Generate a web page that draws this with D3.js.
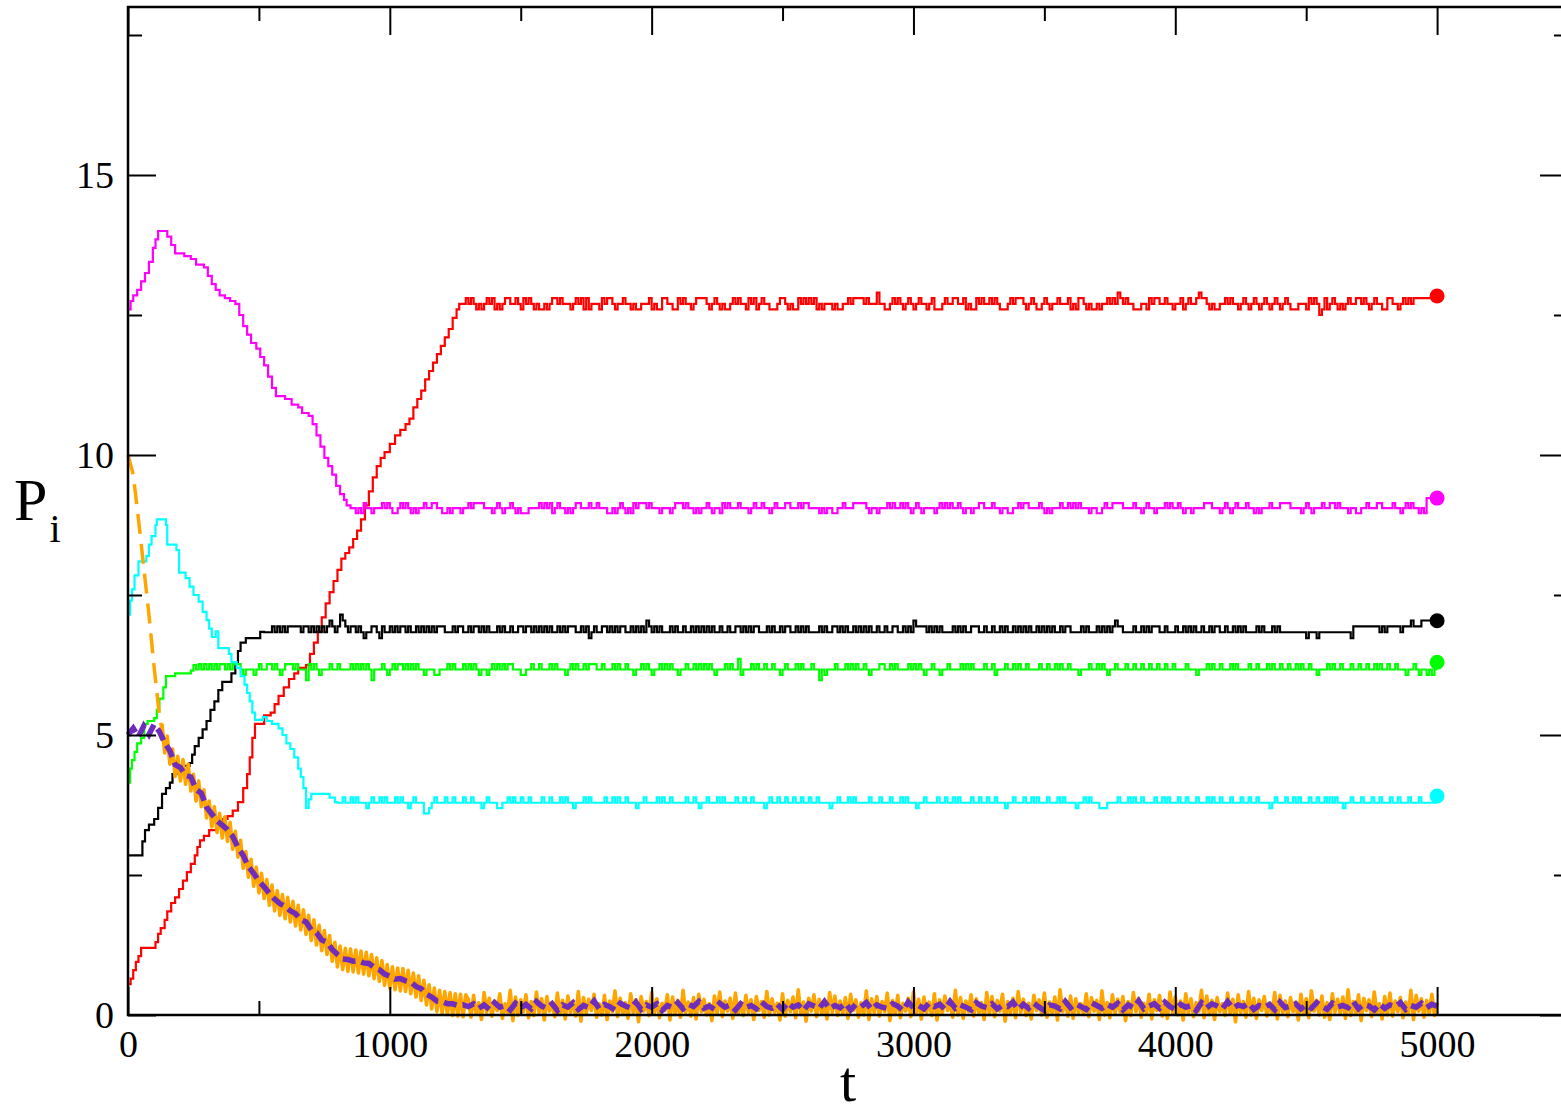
<!DOCTYPE html>
<html>
<head>
<meta charset="utf-8">
<script src="https://cdn.jsdelivr.net/npm/d3@7"></script>
<style>
  body { margin: 0; background: #fff; }
  text { font-family: "Liberation Serif", "Times New Roman", serif; fill: #000; }
</style>
</head>
<body>
<svg id="chart" width="1561" height="1115"></svg>
<script>
// ---------------- data ----------------
const T_END = 5000;
const BIN = 10;                       // time width of one level character

const xMajorTicks = [0, 1000, 2000, 3000, 4000, 5000];
const xTickLabels = ["0", "1000", "2000", "3000", "4000", "5000"];
const xMinorTicks = [500, 1500, 2500, 3500, 4500];
const yMajorTicks = [0, 5, 10, 15];
const yTickLabels = ["0", "5", "10", "15"];
const yMinorTicks = [2.5, 7.5, 12.5, 17.5];

// transient part of each trajectory: [t, P]
const redRamp = [[0,0.55],[10,0.65],[20,0.8],[30,0.95],[40,1.05],[50,1.2],[105,1.3],[115,1.45],[125,1.55],[140,1.7],[150,1.85],[165,2.0],[180,2.1],[195,2.25],[210,2.4],[225,2.55],[240,2.7],[255,2.85],[265,3.0],[275,3.12],[290,3.2],[310,3.3],[340,3.35],[360,3.5],[380,3.55],[400,3.65],[420,3.8],[440,4.05],[455,4.3],[465,4.6],[475,4.95],[485,5.2],[520,5.35],[545,5.4],[560,5.55],[575,5.7],[595,5.85],[615,6.0],[635,6.1],[650,6.2],[680,6.25],[695,6.45],[710,6.65],[725,6.85],[740,7.1],[755,7.35],[770,7.55],[785,7.75],[800,7.95],[815,8.15],[830,8.25],[845,8.35],[860,8.5],[875,8.65],[890,8.85],[905,9.1],[920,9.35],[935,9.6],[950,9.8],[965,9.95],[980,10.05],[1000,10.2],[1020,10.35],[1040,10.45],[1060,10.55],[1075,10.65],[1090,10.85],[1105,11.0],[1120,11.15],[1135,11.35],[1150,11.5],[1165,11.65],[1180,11.8],[1195,11.95],[1210,12.1],[1225,12.25],[1240,12.45],[1255,12.6],[1265,12.7]];
const magentaRamp = [[0,12.6],[10,12.75],[20,12.85],[35,12.95],[50,13.1],[65,13.25],[80,13.45],[95,13.7],[105,13.85],[115,14.0],[150,13.9],[165,13.75],[180,13.6],[215,13.55],[240,13.5],[260,13.4],[290,13.35],[305,13.2],[320,13.05],[335,12.95],[350,12.85],[370,12.8],[390,12.75],[410,12.7],[425,12.5],[440,12.3],[455,12.15],[470,12.0],[490,11.9],[505,11.75],[520,11.6],[535,11.4],[550,11.2],[565,11.05],[600,11.0],[625,10.9],[650,10.85],[665,10.75],[690,10.7],[705,10.55],[720,10.35],[735,10.15],[750,9.95],[765,9.8],[780,9.65],[795,9.45],[810,9.3],[825,9.2],[835,9.1]];
const blackRamp = [[0,2.85],[55,3.1],[65,3.3],[80,3.4],[100,3.5],[115,3.7],[130,3.95],[145,4.05],[160,4.15],[170,4.3],[185,4.45],[235,4.5],[245,4.65],[255,4.8],[270,4.95],[285,5.1],[300,5.25],[315,5.45],[330,5.6],[345,5.8],[360,5.95],[395,6.1],[410,6.3],[420,6.5],[430,6.65],[450,6.73],[505,6.84]];
const greenRamp = [[0,4.15],[8,4.4],[15,4.55],[25,4.7],[35,4.85],[50,4.95],[62,5.2],[75,5.25],[100,5.3],[110,5.45],[120,5.65],[135,5.85],[145,6.05],[180,6.1],[240,6.15],[250,6.25]];
const cyanRamp = [[0,7.15],[8,7.4],[15,7.6],[25,7.85],[40,8.1],[70,8.2],[80,8.4],[90,8.55],[105,8.75],[110,8.85],[145,8.75],[150,8.4],[185,8.3],[195,7.9],[220,7.8],[235,7.65],[250,7.5],[270,7.38],[285,7.2],[300,7.05],[310,6.9],[320,6.75],[335,6.85],[345,6.55],[385,6.45],[395,6.3],[415,6.2],[430,6.05],[445,5.9],[455,5.75],[465,5.6],[475,5.4],[485,5.27],[515,5.32],[530,5.25],[550,5.2],[575,5.12],[590,5.0],[605,4.85],[620,4.75],[635,4.6],[650,4.4],[660,4.25],[670,4.05],[680,3.7],[690,3.85],[700,3.95],[770,3.88],[790,3.8]];

// stationary part: start time, level values, and one level index per BIN
const redStart = 1280;
const redLevels = [12.5, 12.6, 12.7, 12.8, 12.9];
const redSteps = "2323212123 2312123322 3213232121 1212332322 2123231312 2213233212 2322121122 2312113322 1132322123 3332123212 1123232213 2312322111 2332121132 3232312122 2121122323 3332322242 2112323212 3212322123 1112322332 2312113232 2323211123 2333212321 1232122322 2312133212 1121223232 4323221112 2132332232 2122312322 3433212112 2323221232 1232123212 3212321112 2213232013 1232121232 2332321232 2113322123 2323";

const magentaStart = 850;
const magentaLevels = [8.96, 9.05, 9.14, 9.23];
const magentaSteps = "1101021101 1121210012 1210101121 1221100101 1101121222 2111012101 1210100011 1121212012 1101012211 1211211100 1012101021 2221211101 1101222121 1010112101 1021211121 1101211211 0121112211 1212211110 1011001121 1122222101 1011121211 2121012101 1110121212 1121011011 2211121101 1001121221 1112101011 1211212121 1101100121 1222211112 1101211011 1212112101 1011112221 1101210121 1121101011 1211122221 1110121011 1211221211 1011001121 1122111121 1012121101 033333";

const blackStart = 520;
const blackLevels = [6.73, 6.835, 6.94, 7.045, 7.15];
const blackSteps = "1112121212 2222122121 2121232124 3212212101 1221021121 2122121121 2121212221 1121221121 2212121112 1211211221 2212121212 1121212221 1212012112 2121212211 2121213212 1211121211 2112121212 1211211211 2212121221 1121211212 2112121211 1121211221 2121121212 1211211211 2211212132 2221212121 1112121211 2221121121 1212112121 2121121212 1211212211 1121211121 2121232211 1121121212 2211211121 1212121121 1212211211 2121211112 1211121211 1111111101 1101111111 1111102222 2222221212 2222122232 223";

const greenStart = 260;
const greenLevels = [5.98, 6.075, 6.17, 6.265, 6.36];
const greenSteps = "2323232323 3232333212 2212322332 3212333232 2203232122 2322322223 2323232022 2321232332 3232322122 2112223232 2232323212 2123232323 3222112232 2322232322 2123232232 3332232223 2322322122 3232122323 2322122322 3232323212 2232322412 2232322322 3221232223 2322232202 1222322232 3232232122 2332232322 2232323212 2322122322 2232323222 2322312223 2232322322 2232232232 3223222122 2322323212 2322232232 2322322322 3223222232 2212223232 2322232322 2232232223 2322322322 3232232212 2232322322 2322322322 3232232232 2212232122 12122";

const cyanStart = 800;
const cyanLevels = [3.6, 3.695, 3.79, 3.885, 3.98];
const cyanSteps = "2232232322 2123223232 2232322123 2220012322 2322322232 2322212322 2112232322 3223222232 2322232322 1222323222 2232232322 3222122322 2232322322 2223223212 2322232322 2232232232 2221232232 2322322322 3223222212 2322232322 2223222322 2322232322 2122322223 2232232322 2232232232 2322212232 2232232322 2322232322 2212232322 2111222232 2232322322 2232232322 2322322232 2232322322 2322232232 2322221232 2232232322 2322322323 2322122322 2322232232 2232232223 22232";

// final states (dots at t = 5000)
const finalState = [
  { name: "red", value: 12.84 },
  { name: "magenta", value: 9.23 },
  { name: "black", value: 7.04 },
  { name: "green", value: 6.3 },
  { name: "cyan", value: 3.91 }
];

// first, smooth part of the orange curve (dashed)
const orangeHead = [[0,10.0],[20,9.65],[40,8.85],[60,8.0],[80,7.15],[100,6.2],[120,5.35],[135,4.95]];

// fluctuating orange curve, in hundredths, from t = 130 every 10
const orangeStart = 130, orangeStep = 10;
const orangeDecay = [520,468,498,448,475,426,462,418,456,412,448,400,430,382,418,372,402,352,382,336,372,326,360,316,354,310,344,296,328,282,312,262,292,246,278,230,264,218,253,208,242,196,232,186,222,178,215,172,210,166,203,159,196,152,188,144,178,133,170,125,160,115,151,108,142,96,130,86,123,81,119,78,118,77,116,75,114,73,112,70,108,65,102,60,97,53,90,48,86,45,84,43,83,42,80,38,75,32,70,26,62,18,54,11,48,6,44,3,42,1,40,-1,38,-2,37,-3,36];
const orangeFlat = [
  28,-4,35,2,22,-8,40,5,30,-2,25,8,38,-6,20,3,44,-10,32,0,
  27,6,36,-5,24,-1,41,4,29,-9,33,7,21,-3,39,1,26,-7,34,5,
  23,-2,42,-11,31,3,28,8,37,-4,20,0,35,-8,25,6,43,-3,30,2,
  22,-6,38,4,27,-12,33,7,24,-1,40,3,29,-5,21,8,36,-9,32,1,
  26,-4,44,5,23,-2,31,-7,37,6,28,0,20,-10,34,3,41,-3,25,7,
  30,-6,39,2,22,-1,35,4,27,-8,33,8,24,-4,42,0,29,5,21,-9,
  38,-2,26,6,32,-5,45,1,23,-11,30,7,36,-3,28,3,20,-7,40,5,
  34,-1,25,2,31,-6,37,8,27,-4,22,0,43,-8,29,4,33,-2,24,6,
  39,-10,26,1,35,-5,21,7,30,-3,41,3,28,-7,32,5,23,-1,38,-9,
  27,2,34,8,20,-4,44,0,31,-6,25,6,36,-2,29,4,22,-8,40,1,
  33,-3,26,7,37,-11,24,3,30,-5,42,5,28,-1,21,-7,35,8,27,0,
  39,-4,23,2,32,-9,45,6,25,-2,34,-6,29,4,20,1,38,-3,31,7,
  26,-8,43,0,22,-5,36,3,28,5,33,-10,24,-1,40,6,30,-4,21,2,
  37,-7,27,8,35,-2,23,-6,41,4,32,0,25,-9,38,3,29,-3,22,7,
  44,-5,34,1,26,-8,31,6,20,-1,39,2,28,-12,36,5,24,-4,42,0,
  30,-6,27,8,33,-2,21,3,40,-7,35,4,25,-3,31,6,23,-9,37,1,
  29,-5,43,7,26,0,34,-4,22,-8,38,5,28,2,32,-6,45,-1,24,3,
  36,-10,30,8,27,-3,41,4,20,-7,33,0,39,-2,25,6,31,-5,23,1,
  44,-8,35,7,29,-4,26,2,37,-1,22,5,40,-6,28,3,34,-9,24,8
];

// purple curve, in hundredths, from t = 0 every 20
const purpleStep = 20;
const purpleDecay = [500,512,497,516,501,519,506,486,472,447,442,428,425,403,396,371,359,347,339,331,319,299,285,265,253,239,229,217,207,199,194,186,181,170,166,152,147,134,130,117,108,100,99,96,97,93,92,85,81,73,69,64,65,61,59,51,47,37,32,25,24,20,20,17,18];
const purpleFlat = [15,20,12,18,10,22,14,17,9,21,13,19,11,24,16,12,20,8,18,14,22,10,17,13,25,11,19,15,9,21,16,12,23,10,18,14,20,8,17,13,22,11,19,15,24,12,16,10,21,14,18,9,20,13,17,11,23,15,12,19,10,22,14,18,8,20,16,12,24,11,17,13,21,9,19,15,22,10,18,14,12,20,16,8,23,13,17,11,21,15,19,10,24,12,18,14,9,22,16,13,20,11,17,15,23,10,19,12,21,14,8,18,16,11,24,13,20,15,10,22,17,12,19,14,21,9,18,13,25,11,16,20,12,23,15,10,19,14,17,8,22,13,20,16,11,24,12,18,15,21,10,17,14,19,9,23,13,16,20,11,18,12,22,15,10,21,14,17,13,24,11,19,16,9,20,12,18,15,22,10,17,14,21,13,19,16,12];

const colors = {
  red: "#ff0000", magenta: "#ff00ff", black: "#000000",
  green: "#00ff00", cyan: "#00ffff", orange: "#ffa500", purple: "#6f2dbd"
};

// ---------------- helpers ----------------
function stepSeries(ramp, start, levels, steps) {
  const pts = ramp.map(d => ({ t: d[0], v: d[1] }));
  const codes = steps.replace(/\s+/g, "");
  for (let i = 0; i < codes.length; i++) {
    const t = start + i * BIN;
    if (t >= T_END) break;
    pts.push({ t, v: levels[+codes[i]] });
  }
  pts.push({ t: T_END, v: pts[pts.length - 1].v });
  return pts;
}
function sampled(values, start, step) {
  const pts = [];
  values.forEach((n, i) => {
    const t = start + i * step;
    if (t <= T_END) pts.push({ t, v: n / 100 });
  });
  return pts;
}

// ---------------- chart ----------------
const svg = d3.select("#chart");
const x = d3.scaleLinear().domain([0, 5500]).range([128, 1568]);
const y = d3.scaleLinear().domain([0, 18]).range([1015, 7]);

const stepLine = d3.line().x(d => x(d.t)).y(d => y(d.v)).curve(d3.curveStepAfter);
const polyLine = d3.line().x(d => x(d.t)).y(d => y(d.v));

const series = [
  { name: "red", pts: stepSeries(redRamp, redStart, redLevels, redSteps) },
  { name: "magenta", pts: stepSeries(magentaRamp, magentaStart, magentaLevels, magentaSteps) },
  { name: "black", pts: stepSeries(blackRamp, blackStart, blackLevels, blackSteps) },
  { name: "green", pts: stepSeries(greenRamp, greenStart, greenLevels, greenSteps) },
  { name: "cyan", pts: stepSeries(cyanRamp, cyanStart, cyanLevels, cyanSteps) }
];

const plot = svg.append("g");

plot.selectAll("path.traj")
  .data(series)
  .join("path")
  .attr("class", "traj")
  .attr("d", d => stepLine(d.pts))
  .attr("fill", "none")
  .attr("stroke", d => colors[d.name])
  .attr("stroke-width", 2.2);

// orange: smooth dashed head, then the fluctuating band
plot.append("path")
  .attr("d", polyLine(orangeHead.map(d => ({ t: d[0], v: d[1] }))))
  .attr("fill", "none")
  .attr("stroke", colors.orange)
  .attr("stroke-width", 3.5)
  .attr("stroke-dasharray", "20,10");

const orangePts = sampled(orangeDecay.concat(orangeFlat), orangeStart, orangeStep);
plot.append("path")
  .attr("d", polyLine(orangePts))
  .attr("fill", "none")
  .attr("stroke", colors.orange)
  .attr("stroke-width", 3.6)
  .attr("stroke-linejoin", "round");

const purplePts = sampled(purpleDecay.concat(purpleFlat), 0, purpleStep);
plot.append("path")
  .attr("d", polyLine(purplePts))
  .attr("fill", "none")
  .attr("stroke", colors.purple)
  .attr("stroke-width", 5.5)
  .attr("stroke-dasharray", "13,6");

// final-state dots
plot.selectAll("circle.final")
  .data(finalState)
  .join("circle")
  .attr("class", "final")
  .attr("cx", x(T_END))
  .attr("cy", d => y(d.value))
  .attr("r", 7.5)
  .attr("fill", d => colors[d.name]);

// ---------------- axes & frame ----------------
const [xl, xr] = x.range();
const [yb, yt] = y.range();

function styleAxis(g) {
  g.select(".domain").remove();
  g.attr("font-family", '"Liberation Serif", "Times New Roman", serif');
  g.selectAll(".tick line").attr("stroke", "#000").attr("stroke-width", 2);
  g.selectAll(".tick text").attr("font-size", 38).attr("fill", "#000");
}

svg.append("g").attr("transform", `translate(0,${yb})`)
  .call(d3.axisBottom(x).tickValues(xMajorTicks).tickSize(-28).tickPadding(15)
    .tickFormat((d, i) => xTickLabels[i]))
  .call(styleAxis);
svg.append("g").attr("transform", `translate(0,${yb})`)
  .call(d3.axisBottom(x).tickValues(xMinorTicks).tickSize(-14).tickFormat(""))
  .call(styleAxis);
svg.append("g").attr("transform", `translate(0,${yt})`)
  .call(d3.axisTop(x).tickValues(xMajorTicks).tickSize(-28).tickFormat(""))
  .call(styleAxis);
svg.append("g").attr("transform", `translate(0,${yt})`)
  .call(d3.axisTop(x).tickValues(xMinorTicks).tickSize(-14).tickFormat(""))
  .call(styleAxis);

svg.append("g").attr("transform", `translate(${xl},0)`)
  .call(d3.axisLeft(y).tickValues(yMajorTicks).tickSize(-28).tickPadding(14)
    .tickFormat((d, i) => yTickLabels[i]))
  .call(styleAxis);
svg.append("g").attr("transform", `translate(${xl},0)`)
  .call(d3.axisLeft(y).tickValues(yMinorTicks).tickSize(-14).tickFormat(""))
  .call(styleAxis);
svg.append("g").attr("transform", `translate(${xr},0)`)
  .call(d3.axisRight(y).tickValues(yMajorTicks).tickSize(-28).tickFormat(""))
  .call(styleAxis);
svg.append("g").attr("transform", `translate(${xr},0)`)
  .call(d3.axisRight(y).tickValues(yMinorTicks).tickSize(-14).tickFormat(""))
  .call(styleAxis);

svg.append("rect")
  .attr("x", xl).attr("y", yt)
  .attr("width", xr - xl).attr("height", yb - yt)
  .attr("fill", "none").attr("stroke", "#000").attr("stroke-width", 2.5);

// axis titles
svg.append("text")
  .attr("x", 848).attr("y", 1101)
  .attr("text-anchor", "middle")
  .attr("font-size", 58)
  .text("t");

const pLabel = svg.append("text").attr("x", 14).attr("y", 520).attr("font-size", 60);
pLabel.append("tspan").text("P");
pLabel.append("tspan").attr("font-size", 40).attr("dy", 22).attr("dx", 2).text("i");
</script>
</body>
</html>
